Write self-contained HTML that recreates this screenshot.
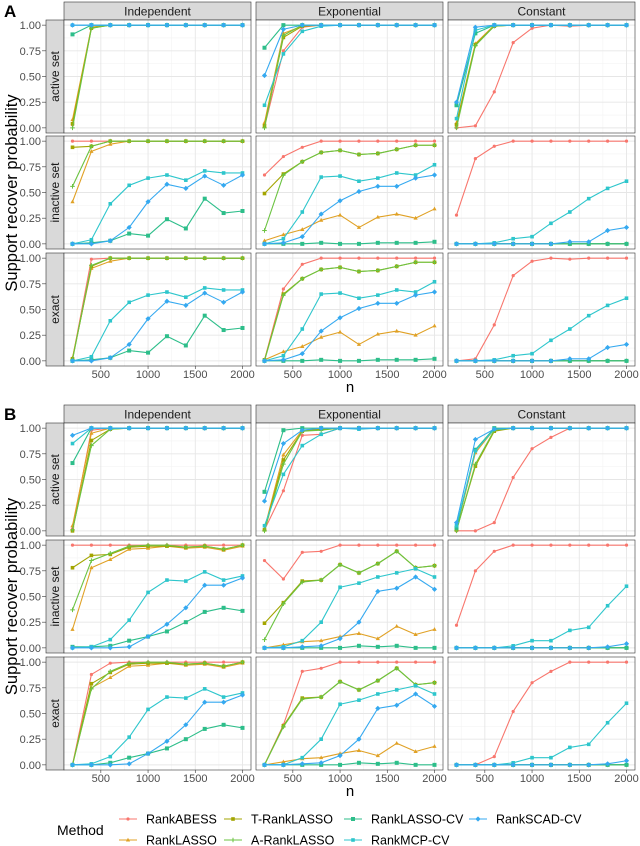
<!DOCTYPE html>
<html><head><meta charset="utf-8"><style>
html,body{margin:0;padding:0;background:#fff;}
svg{display:block;font-family:"Liberation Sans",sans-serif;}
</style></head><body>
<svg id="chart" width="640" height="846" viewBox="0 0 640 846" xmlns="http://www.w3.org/2000/svg"></svg>
<script>
const nValues=[200,400,600,800,1000,1200,1400,1600,1800,2000];
const methods=["RankABESS","RankLASSO","T-RankLASSO","A-RankLASSO","RankLASSO-CV","RankMCP-CV","RankSCAD-CV"];
const colors=["#F8766D","#E0A125","#A3A500","#6BC341","#2DBE8A","#2EC6CC","#35A9F0"];
const shapes=["circle","triangle","square","plus","sqx","square","diamond"];
const xTicks=[500,1000,1500,2000];
const yTicks=[0,0.25,0.5,0.75,1];
const yTickLabels=["0.00","0.25","0.50","0.75","1.00"];
const colNames=["Independent","Exponential","Constant"];
const rowNames=["active set","inactive set","exact"];
const Z=[0,0,0,0,0,0,0,0,0,0];
const ONE=[1,1,1,1,1,1,1,1,1,1];

// Section A
const A_ind_active=[[0.03,0.98,1,1,1,1,1,1,1,1],[0.08,0.98,1,1,1,1,1,1,1,1],[0.04,0.97,1,1,1,1,1,1,1,1],[0,0.97,1,1,1,1,1,1,1,1],[0.91,1,1,1,1,1,1,1,1,1],[1,1,1,1,1,1,1,1,1,1],[1,1,1,1,1,1,1,1,1,1]];
const A_ind_inactive=[ONE,[0.41,0.90,0.97,1,1,1,1,1,1,1],[0.94,0.95,1,1,1,1,1,1,1,1],[0.56,0.95,1,1,1,1,1,1,1,1],[0,0.01,0.03,0.10,0.08,0.24,0.15,0.44,0.30,0.32],[0,0.04,0.39,0.57,0.64,0.67,0.62,0.71,0.69,0.69],[0,0,0.03,0.16,0.41,0.58,0.54,0.66,0.57,0.67]];
const A_ind_exact=[[0.02,0.99,1,1,1,1,1,1,1,1],[0.03,0.90,0.97,1,1,1,1,1,1,1],[0.02,0.92,1,1,1,1,1,1,1,1],[0.01,0.93,1,1,1,1,1,1,1,1],[0,0.01,0.03,0.10,0.08,0.24,0.15,0.44,0.30,0.32],[0,0.04,0.39,0.57,0.64,0.67,0.62,0.71,0.69,0.69],[0,0,0.03,0.16,0.41,0.58,0.54,0.66,0.57,0.67]];
const A_exp_active=[[0.01,0.75,0.98,1,1,1,1,1,1,1],[0.05,0.92,0.99,1,1,1,1,1,1,1],[0.02,0.88,0.99,1,1,1,1,1,1,1],[0,0.90,1,1,1,1,1,1,1,1],[0.78,1,1,1,1,1,1,1,1,1],[0.22,0.72,0.94,0.99,1,1,1,1,1,1],[0.51,0.96,1,1,1,1,1,1,1,1]];
const A_exp_inactive=[[0.67,0.85,0.94,1,1,1,1,1,1,1],[0.03,0.09,0.14,0.23,0.28,0.16,0.26,0.29,0.25,0.34],[0.49,0.68,0.80,0.89,0.91,0.87,0.88,0.92,0.96,0.96],[0.13,0.67,0.80,0.89,0.91,0.87,0.88,0.92,0.96,0.96],[0,0,0,0.01,0,0,0.01,0.01,0.01,0.02],[0,0.05,0.31,0.65,0.66,0.61,0.64,0.69,0.67,0.77],[0,0.01,0.07,0.29,0.42,0.51,0.56,0.56,0.64,0.67]];
const A_exp_exact=[[0.01,0.70,0.94,1,1,1,1,1,1,1],[0.01,0.09,0.14,0.23,0.28,0.16,0.26,0.29,0.25,0.34],[0.01,0.65,0.80,0.89,0.91,0.87,0.88,0.92,0.96,0.96],[0,0.64,0.80,0.89,0.91,0.87,0.88,0.92,0.96,0.96],[0,0,0,0.01,0,0,0.01,0.01,0.01,0.02],[0,0.05,0.31,0.65,0.66,0.61,0.64,0.69,0.67,0.77],[0,0.01,0.07,0.29,0.42,0.51,0.56,0.56,0.64,0.67]];
const A_con_active=[[0,0.02,0.35,0.83,0.97,1,0.99,1,1,1],[0.05,0.82,1,1,1,1,1,1,1,1],[0.03,0.81,0.99,1,1,1,1,1,1,1],[0,0.80,0.99,1,1,1,1,1,1,1],[0.22,0.92,1,1,1,1,1,1,1,1],[0.09,0.95,1,1,1,1,1,1,1,1],[0.25,0.98,1,1,1,1,1,1,1,1]];
const A_con_inactive=[[0.28,0.83,0.95,1,1,1,1,1,1,1],Z,Z,Z,Z,[0,0,0.01,0.05,0.07,0.20,0.31,0.44,0.54,0.61],[0,0,0,0,0,0,0.02,0.02,0.13,0.16]];
const A_con_exact=[[0,0.02,0.35,0.83,0.97,1,0.99,1,1,1],Z,Z,Z,Z,[0,0,0.01,0.05,0.07,0.20,0.31,0.44,0.54,0.61],[0,0,0,0,0,0,0.02,0.02,0.13,0.16]];

// Section B
const B_ind_active=[[0.02,0.98,1,1,1,1,1,1,1,1],[0.05,0.95,1,1,1,1,1,1,1,1],[0,0.88,0.99,1,1,1,1,1,1,1],[0.01,0.83,0.99,1,1,1,1,1,1,1],[0.66,1,1,1,1,1,1,1,1,1],[0.85,1,1,1,1,1,1,1,1,1],[0.93,1,1,1,1,1,1,1,1,1]];
const B_ind_inactive=[ONE,[0.18,0.78,0.86,0.96,0.97,0.99,0.97,0.98,0.95,0.99],[0.78,0.90,0.91,0.98,0.99,0.99,0.98,0.99,0.96,1],[0.37,0.85,0.92,0.99,1,1,0.98,0.99,0.96,1],[0.01,0.01,0.02,0.07,0.11,0.16,0.25,0.35,0.39,0.36],[0,0.01,0.08,0.27,0.54,0.66,0.65,0.74,0.66,0.70],[0,0,0,0.01,0.11,0.23,0.39,0.61,0.61,0.68]];
const B_ind_exact=[[0,0.88,0.99,1,1,1,1,1,1,1],[0,0.75,0.85,0.96,0.97,0.99,0.97,0.98,0.95,0.99],[0,0.79,0.90,0.98,0.99,0.99,0.98,0.99,0.96,1],[0,0.74,0.91,0.99,1,1,0.98,0.99,0.96,1],[0,0,0.02,0.07,0.11,0.16,0.25,0.35,0.39,0.36],[0,0.01,0.08,0.27,0.54,0.66,0.65,0.74,0.66,0.70],[0,0,0,0.01,0.11,0.23,0.39,0.61,0.61,0.68]];
const B_exp_active=[[0.01,0.39,0.93,0.94,1,1,1,1,1,1],[0.02,0.74,0.98,0.99,1,1,1,1,1,1],[0.01,0.69,0.97,0.99,1,1,1,1,1,1],[0,0.65,0.97,0.98,1,1,1,1,1,1],[0.38,0.98,1,1,1,1,1,1,1,1],[0.05,0.55,0.83,0.94,1,0.99,1,1,1,1],[0.29,0.85,0.98,1,1,1,1,1,1,1]];
const B_exp_inactive=[[0.85,0.67,0.93,0.94,1,1,1,1,1,1],[0,0.03,0.06,0.07,0.11,0.14,0.09,0.21,0.13,0.18],[0.24,0.44,0.65,0.66,0.81,0.73,0.82,0.94,0.78,0.80],[0.08,0.43,0.64,0.66,0.81,0.73,0.82,0.94,0.78,0.80],[0,0,0,0,0,0.02,0.01,0.02,0,0],[0,0.01,0.07,0.25,0.59,0.63,0.69,0.73,0.77,0.69],[0,0,0.01,0.02,0.09,0.25,0.55,0.58,0.69,0.57]];
const B_exp_exact=[[0,0.39,0.91,0.94,1,1,1,1,1,1],[0,0.03,0.06,0.07,0.11,0.14,0.09,0.21,0.13,0.18],[0,0.38,0.65,0.66,0.81,0.73,0.82,0.94,0.78,0.80],[0,0.37,0.64,0.66,0.81,0.73,0.82,0.94,0.78,0.80],[0,0,0,0,0,0.02,0.01,0.02,0,0],[0,0,0.07,0.25,0.59,0.63,0.69,0.73,0.77,0.69],[0,0,0.01,0.02,0.09,0.25,0.55,0.58,0.69,0.57]];
const B_con_active=[[0,0,0.08,0.52,0.80,0.91,1,1,1,1],[0.02,0.76,0.99,1,1,1,1,1,1,1],[0.01,0.63,0.97,1,1,1,1,1,1,1],[0,0.65,0.98,1,1,1,1,1,1,1],[0.03,0.79,1,1,1,1,1,1,1,1],[0.05,0.78,0.99,1,1,1,1,1,1,1],[0.08,0.89,0.99,1,1,1,1,1,1,1]];
const B_con_inactive=[[0.22,0.75,0.94,1,1,1,1,1,1,1],Z,Z,Z,Z,[0,0,0,0.02,0.07,0.07,0.17,0.20,0.41,0.60],[0,0,0,0,0,0,0,0,0.01,0.04]];
const B_con_exact=[[0,0,0.08,0.52,0.80,0.91,1,1,1,1],Z,Z,Z,Z,[0,0,0,0.02,0.07,0.07,0.17,0.20,0.41,0.60],[0,0,0,0,0,0,0,0,0.01,0.04]];

const sections=[
 {label:"A",strip:2,rows:[20,136,253],data:[[A_ind_active,A_exp_active,A_con_active],[A_ind_inactive,A_exp_inactive,A_con_inactive],[A_ind_exact,A_exp_exact,A_con_exact]]},
 {label:"B",strip:405,rows:[423,540,657],data:[[B_ind_active,B_exp_active,B_con_active],[B_ind_inactive,B_exp_inactive,B_con_inactive],[B_ind_exact,B_exp_exact,B_con_exact]]}
];
const colX=[64,256,448], PW=187, PH=113, STRIPH=18;
const NS="http://www.w3.org/2000/svg";
const svg=document.getElementById('chart');
function mk(tag,attrs,parent){const e=document.createElementNS(NS,tag);for(const k in attrs)e.setAttribute(k,attrs[k]);(parent||svg).appendChild(e);return e;}
function xs(n,x0){return x0+(n-110)/1980*PW;}
function ys(v,y0){return y0+PH-(v+0.05)/1.1*PH;}
function marker(g,t,x,y,c){
  let e;
  if(t==="circle"){e=mk('circle',{cx:x,cy:y,r:1.6,fill:c},g);}
  else if(t==="triangle"){e=mk('path',{d:`M${x},${y-2.3}L${x+2.1},${y+1.5}L${x-2.1},${y+1.5}Z`,fill:c},g);}
  else if(t==="square"){e=mk('rect',{x:x-1.8,y:y-1.8,width:3.6,height:3.6,fill:c},g);}
  else if(t==="plus"){e=mk('path',{d:`M${x-2.3},${y}H${x+2.3}M${x},${y-2.3}V${y+2.3}`,stroke:c,'stroke-width':1},g);}
  else if(t==="sqx"){e=mk('rect',{x:x-2,y:y-2,width:4,height:4,fill:c},g);}
  else {e=mk('path',{d:`M${x},${y-2.6}L${x+2.6},${y}L${x},${y+2.6}L${x-2.6},${y}Z`,fill:c},g);}
  return e;
}
sections.forEach((s,si)=>{
  const lab=mk('text',{x:4,y:s.strip+15,'font-size':17,'font-weight':'bold',fill:'#000'});
  lab.textContent=s.label;
  
  
  colNames.forEach((cn,ci)=>{
    const st=mk('rect',{x:colX[ci],y:s.strip,width:PW,height:STRIPH,fill:'#d9d9d9',stroke:'#333','stroke-width':0.6});
    
    
    const t=mk('text',{x:colX[ci]+PW/2,y:s.strip+13.5,'text-anchor':'middle','font-size':12,fill:'#1a1a1a'});
    t.textContent=cn;
    
    
  });
  s.rows.forEach((ry,ri)=>{
    const rs=mk('rect',{x:46,y:ry,width:18,height:PH,fill:'#d9d9d9',stroke:'#333','stroke-width':0.6});
    
    
    const rt=mk('text',{x:0,y:0,transform:`translate(59,${ry+PH/2}) rotate(-90)`,'text-anchor':'middle','font-size':12,fill:'#1a1a1a'});
    rt.textContent=rowNames[ri];
    
    
    yTicks.forEach((v,k)=>{
      const yy=ys(v,ry);
      const tl=mk('text',{x:41,y:yy+4,'text-anchor':'end','font-size':11,fill:'#4d4d4d'});
      tl.textContent=yTickLabels[k];
      
      
      mk('line',{x1:42,x2:46,y1:yy,y2:yy,stroke:'#333','stroke-width':0.6});
    });
    colNames.forEach((cn,ci)=>{
      const x0=colX[ci];
      const g=mk('g',{});
      
      
      mk('rect',{x:x0,y:ry,width:PW,height:PH,fill:'#fff'},g);
      [250,750,1250,1750].forEach(n=>mk('line',{x1:xs(n,x0),x2:xs(n,x0),y1:ry,y2:ry+PH,stroke:'#f3f3f3','stroke-width':0.6},g));
      [0.125,0.375,0.625,0.875].forEach(v=>mk('line',{x1:x0,x2:x0+PW,y1:ys(v,ry),y2:ys(v,ry),stroke:'#f3f3f3','stroke-width':0.6},g));
      xTicks.forEach(n=>mk('line',{x1:xs(n,x0),x2:xs(n,x0),y1:ry,y2:ry+PH,stroke:'#e6e6e6','stroke-width':0.9},g));
      yTicks.forEach(v=>mk('line',{x1:x0,x2:x0+PW,y1:ys(v,ry),y2:ys(v,ry),stroke:'#e6e6e6','stroke-width':0.9},g));
      const d=s.data[ri][ci];
      d.forEach((ser,mi)=>{
        const pts=ser.map((v,k)=>xs(nValues[k],x0).toFixed(2)+','+ys(v,ry).toFixed(2)).join(' ');
        const pl=mk('polyline',{points:pts,fill:'none',stroke:colors[mi],'stroke-width':1.1,'stroke-linejoin':'round'},g);
        
        
        ser.forEach((v,k)=>{
          const m=marker(g,shapes[mi],xs(nValues[k],x0),ys(v,ry),colors[mi]);
          
          
        });
      });
      mk('rect',{x:x0,y:ry,width:PW,height:PH,fill:'none',stroke:'#333','stroke-width':0.6},g);
      if(ri===2){
        xTicks.forEach(n=>{
          mk('line',{x1:xs(n,x0),x2:xs(n,x0),y1:ry+PH,y2:ry+PH+3,stroke:'#333','stroke-width':0.6});
          const xl=mk('text',{x:xs(n,x0),y:ry+PH+12,'text-anchor':'middle','font-size':11,fill:'#4d4d4d'});
          xl.textContent=n;
          
          
        });
      }
    });
  });
  const xt=mk('text',{x:350,y:s.rows[2]+PH+26,'text-anchor':'middle','font-size':15,fill:'#000'});
  xt.textContent='n';
  
  
  const cy=(s.rows[0]+s.rows[2]+PH)/2;
  const yt=mk('text',{x:0,y:0,transform:`translate(17,${cy}) rotate(-90)`,'text-anchor':'middle','font-size':16.5,fill:'#000'});
  yt.textContent='Support recover probability';
  
  
});
// legend
const lt=mk('text',{x:57,y:835,'font-size':14,fill:'#000'});
lt.textContent='Method';


const legPos=[[119,819],[119,840],[224,819],[224,840],[344,819],[344,840],[469,819]];
const legOrder=[0,1,2,3,4,5,6];
legOrder.forEach(mi=>{
  const [lx,ly]=legPos[mi];
  const g=mk('g',{});
  
  
  mk('line',{x1:lx,x2:lx+18,y1:ly,y2:ly,stroke:colors[mi],'stroke-width':1.1},g);
  marker(g,shapes[mi],lx+9,ly,colors[mi]);
  const t=mk('text',{x:lx+27,y:ly+4.5,'font-size':12.5,fill:'#000'},g);
  t.textContent=methods[mi];
});
</script>
</body></html>
